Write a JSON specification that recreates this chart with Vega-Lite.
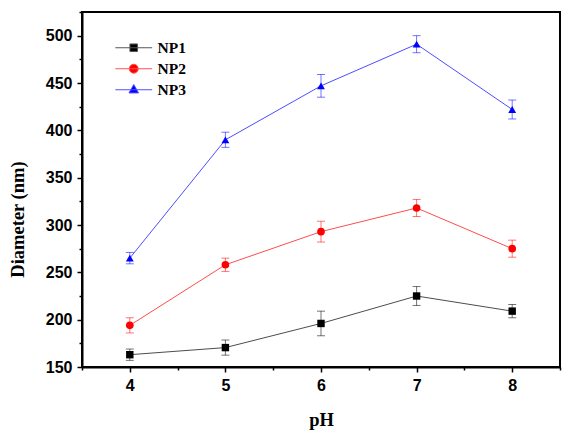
{
  "$schema": "https://vega.github.io/schema/vega-lite/v6.json",
  "width": 478,
  "height": 355,
  "autosize": {"type": "none"},
  "padding": {"left": 82, "top": 12, "right": 10, "bottom": 64},
  "background": "white",
  "config": {
    "view": {"stroke": "black", "strokeWidth": 2},
    "axis": {
      "domainColor": "black",
      "domainWidth": 2,
      "tickColor": "black",
      "tickWidth": 1.5,
      "grid": false,
      "labelFont": "Liberation Sans",
      "labelFontWeight": "bold",
      "labelFontSize": 16,
      "labelColor": "black",
      "titleFont": "Liberation Serif",
      "titleFontWeight": "bold",
      "titleFontSize": 18.5,
      "titleColor": "black"
    }
  },
  "data": {
    "values": [
      {"s": "NP1", "ph": 4, "d": 163, "lo": 157, "hi": 169},
      {"s": "NP1", "ph": 5, "d": 170.5, "lo": 162.5, "hi": 178.5},
      {"s": "NP1", "ph": 6, "d": 196, "lo": 183, "hi": 209},
      {"s": "NP1", "ph": 7, "d": 225, "lo": 215, "hi": 235},
      {"s": "NP1", "ph": 8, "d": 209, "lo": 202, "hi": 216},
      {"s": "NP2", "ph": 4, "d": 194, "lo": 186, "hi": 202},
      {"s": "NP2", "ph": 5, "d": 258, "lo": 251, "hi": 265},
      {"s": "NP2", "ph": 6, "d": 293, "lo": 282, "hi": 304},
      {"s": "NP2", "ph": 7, "d": 318, "lo": 309, "hi": 327},
      {"s": "NP2", "ph": 8, "d": 275, "lo": 266, "hi": 284},
      {"s": "NP3", "ph": 4, "d": 265, "lo": 259, "hi": 271},
      {"s": "NP3", "ph": 5, "d": 390, "lo": 382, "hi": 398},
      {"s": "NP3", "ph": 6, "d": 447, "lo": 435, "hi": 459},
      {"s": "NP3", "ph": 7, "d": 491, "lo": 482, "hi": 500},
      {"s": "NP3", "ph": 8, "d": 422, "lo": 412, "hi": 432}
    ]
  },
  "encoding": {
    "x": {
      "field": "ph",
      "type": "quantitative",
      "scale": {"domain": [3.5, 8.5], "nice": false, "zero": false},
      "axis": {
        "title": "pH",
        "values": [3.5, 4, 4.5, 5, 5.5, 6, 6.5, 7, 7.5, 8, 8.5],
        "labelExpr": "datum.value % 1 === 0 ? '' + datum.value : ''",
        "tickSize": {"condition": {"test": "datum.value % 1 !== 0", "value": 3}, "value": 5},
        "labelPadding": 5,
        "titlePadding": 17,
        "labelFlush": false
      }
    },
    "y": {
      "field": "d",
      "type": "quantitative",
      "scale": {"domain": [150, 525], "nice": false, "zero": false},
      "axis": {
        "title": "Diameter (nm)",
        "values": [150, 175, 200, 225, 250, 275, 300, 325, 350, 375, 400, 425, 450, 475, 500, 525],
        "labelExpr": "datum.value % 50 === 0 ? datum.label : ''",
        "tickSize": {"condition": {"test": "datum.value % 50 !== 0", "value": 3}, "value": 5},
        "labelPadding": 5,
        "titlePadding": 18,
        "titleY": 207,
        "labelFlush": false
      }
    }
  },
  "resolve": {"scale": {"shape": "independent", "fill": "independent", "stroke": "independent"}},
  "layer": [
    {
      "transform": [{"filter": "false"}],
      "mark": {"type": "point", "size": 64, "strokeWidth": 1, "opacity": 1},
      "encoding": {
        "fill": {
          "field": "s",
          "type": "nominal",
          "scale": {"domain": ["NP1", "NP2", "NP3"], "range": ["#000000", "#ff0000", "#0000ff"]}
        },
        "stroke": {
          "field": "s",
          "type": "nominal",
          "scale": {"domain": ["NP1", "NP2", "NP3"], "range": ["#555555", "#ff5050", "#5050ff"]}
        },
        "shape": {
          "field": "s",
          "type": "nominal",
          "scale": {
            "domain": ["NP1", "NP2", "NP3"],
            "range": [
              "M-4.6,0H4.6M-0.95,-0.95H0.95V0.95H-0.95Z",
              "M-4.6,0H4.6M1.12,0A1.12,1.12,0,1,1,-1.12,0A1.12,1.12,0,1,1,1.12,0Z",
              "M-4.6,0H4.6M0,-1.3L1.2,0.8L-1.2,0.8Z"
            ]
          },
          "legend": {
            "title": null,
            "orient": "none",
            "legendX": 44,
            "legendY": 28,
            "padding": 0,
            "symbolSize": 64,
            "symbolStrokeWidth": 1,
            "symbolOpacity": 1,
            "labelFont": "Liberation Serif",
            "labelFontWeight": "bold",
            "labelFontSize": 15.5,
            "labelColor": "black",
            "labelOffset": 16,
            "rowPadding": 4
          }
        }
      }
    },
    {
      "mark": {"type": "line", "strokeWidth": 1, "opacity": 0.7},
      "encoding": {
        "color": {"field": "s", "type": "nominal", "scale": {"domain": ["NP1", "NP2", "NP3"], "range": ["#000000", "#ff0000", "#0000ff"]}, "legend": null}
      }
    },
    {
      "mark": {"type": "rule", "strokeWidth": 1, "opacity": 0.55},
      "encoding": {
        "y": {"field": "lo", "type": "quantitative"},
        "y2": {"field": "hi"},
        "color": {"field": "s", "type": "nominal", "legend": null}
      }
    },
    {
      "mark": {"type": "tick", "orient": "horizontal", "size": 8, "thickness": 1, "opacity": 0.55},
      "encoding": {
        "y": {"field": "lo", "type": "quantitative"},
        "color": {"field": "s", "type": "nominal", "legend": null}
      }
    },
    {
      "mark": {"type": "tick", "orient": "horizontal", "size": 8, "thickness": 1, "opacity": 0.55},
      "encoding": {
        "y": {"field": "hi", "type": "quantitative"},
        "color": {"field": "s", "type": "nominal", "legend": null}
      }
    },
    {
      "mark": {"type": "point", "filled": true, "opacity": 1},
      "encoding": {
        "color": {"field": "s", "type": "nominal", "legend": null},
        "shape": {
          "field": "s",
          "type": "nominal",
          "scale": {"domain": ["NP1", "NP2", "NP3"], "range": ["square", "circle", "triangle-up"]},
          "legend": null
        },
        "size": {
          "field": "s",
          "type": "nominal",
          "scale": {"domain": ["NP1", "NP2", "NP3"], "range": [55, 62, 85]},
          "legend": null
        }
      }
    }
  ]
}
